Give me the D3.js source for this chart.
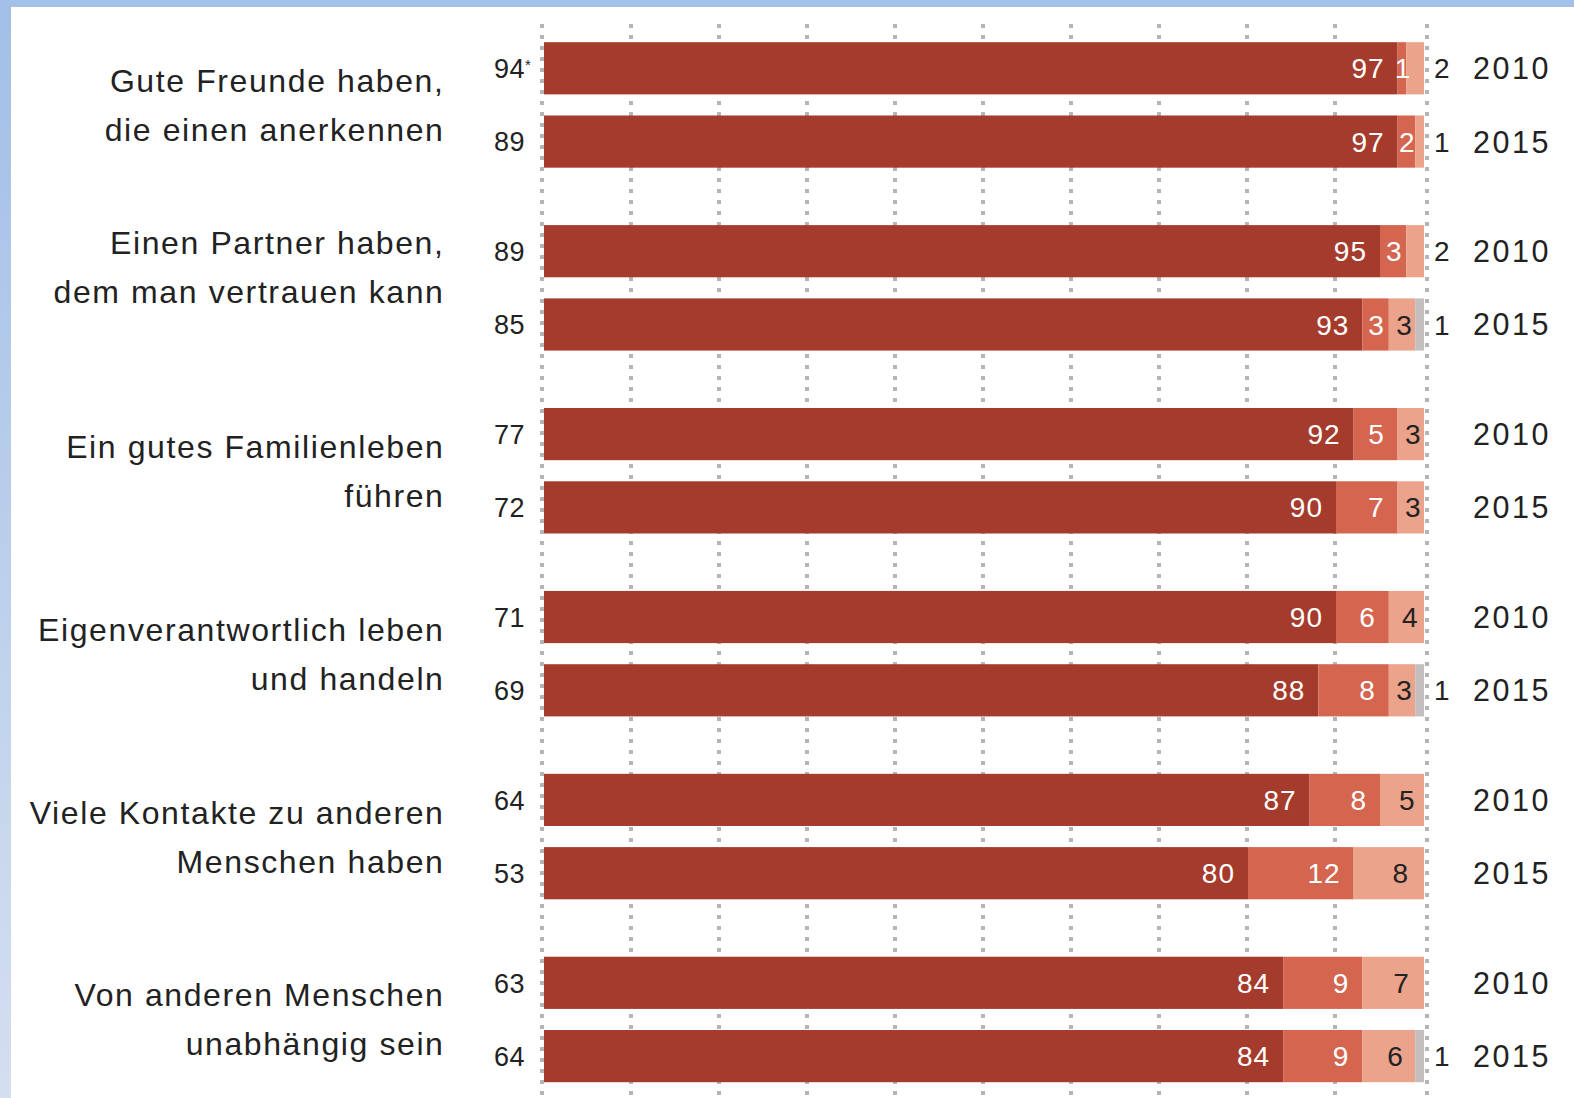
<!DOCTYPE html>
<html>
<head>
<meta charset="utf-8">
<script src="https://cdn.jsdelivr.net/npm/d3@7"></script>
<style>
  html, body { margin: 0; padding: 0; background: #fff; }
  #chart { width: 1574px; height: 1098px; }
  text { font-family: "Liberation Sans", Arial, sans-serif; }
</style>
</head>
<body>
<div id="chart"></div>
<script>
const categories = [
  ["Gute Freunde haben,", "die einen anerkennen"],
  ["Einen Partner haben,", "dem man vertrauen kann"],
  ["Ein gutes Familienleben", "führen"],
  ["Eigenverantwortlich leben", "und handeln"],
  ["Viele Kontakte zu anderen", "Menschen haben"],
  ["Von anderen Menschen", "unabhängig sein"]
];
const years = ["2010", "2015"];
// "sehr wichtig" figure shown left of the bar
const veryImportant = [[94, 89], [89, 85], [77, 72], [71, 69], [64, 53], [63, 64]];
const important = [[97, 97], [95, 93], [92, 90], [90, 88], [87, 80], [84, 84]];
const neutral = [[1, 2], [3, 3], [5, 7], [6, 8], [8, 12], [9, 9]];
const unimportant = [[2, 1], [2, 3], [3, 3], [4, 3], [5, 8], [7, 6]];
const noAnswer = [[0, 0], [0, 1], [0, 0], [0, 1], [0, 0], [0, 1]];
const ticks = [0, 10, 20, 30, 40, 50, 60, 70, 80, 90, 100];

const width = 1574, height = 1098;
const colors = ["#a53b2c", "#d4654f", "#eba38b", "#c3bfbf"];

const svg = d3.select("#chart")
  .append("svg")
  .attr("width", width)
  .attr("height", height);

// blue frame
const grad = svg.append("defs").append("linearGradient")
  .attr("id", "frame")
  .attr("x1", 0).attr("y1", 0).attr("x2", 0).attr("y2", 1);
grad.append("stop").attr("offset", "0%").attr("stop-color", "#a2bfe7");
grad.append("stop").attr("offset", "100%").attr("stop-color", "#d4dff0");
svg.append("rect").attr("x", 0).attr("y", 0).attr("width", width).attr("height", 7).attr("fill", "#a3c0e8");
svg.append("rect").attr("x", 0).attr("y", 0).attr("width", 11).attr("height", height).attr("fill", "url(#frame)");

const x = d3.scaleLinear().domain([0, 100]).range([544, 1424]);

const y = d3.scaleBand()
  .domain(d3.range(categories.length))
  .range([42.2, 1082.2])
  .paddingInner(0.314)
  .paddingOuter(0);

const yInner = d3.scaleBand()
  .domain(years)
  .range([0, y.bandwidth()])
  .paddingInner(0.288)
  .paddingOuter(0);

// dotted grid
svg.append("g")
  .selectAll("line")
  .data(ticks)
  .enter()
  .append("line")
  .attr("x1", d => x(d) + (d === 0 ? -2 : d === 100 ? 3 : -1))
  .attr("x2", d => x(d) + (d === 0 ? -2 : d === 100 ? 3 : -1))
  .attr("y1", 24)
  .attr("y2", height)
  .attr("stroke", "#b5b5b5")
  .attr("stroke-width", 4)
  .attr("stroke-dasharray", "4 7");

// flatten rows
let rows = [];
categories.forEach((c, i) => {
  years.forEach((yr, j) => {
    const vals = [important[i][j], neutral[i][j], unimportant[i][j], noAnswer[i][j]];
    let acc = 0;
    const segs = vals.map((v, k) => {
      const s = { k: k, v: v, x0: acc, x1: acc + v };
      acc += v;
      return s;
    });
    rows.push({ cat: i, year: yr, top: y(i) + yInner(yr), very: veryImportant[i][j], segs: segs });
  });
});

const bh = yInner.bandwidth();

const row = svg.append("g")
  .selectAll("g")
  .data(rows)
  .enter()
  .append("g")
  .attr("transform", d => "translate(0," + d.top + ")");

row.selectAll("rect")
  .data(d => d.segs.filter(s => s.v > 0))
  .enter()
  .append("rect")
  .attr("x", s => x(s.x0))
  .attr("width", s => x(s.x1) - x(s.x0))
  .attr("y", 0)
  .attr("height", bh)
  .attr("fill", s => colors[s.k]);

// labels inside bars
row.selectAll("text.inside")
  .data(d => d.segs.filter(s => s.v > 0 && s.k < 3 && !(s.k === 2 && d.segs[3].v === 0 && s.v <= 2)))
  .enter()
  .append("text")
  .attr("class", "inside")
  .each(function (s) {
    const w = x(s.x1) - x(s.x0);
    const tw = String(s.v).length * 16;
    const t = d3.select(this);
    if (s.k === 2) {
      const pad = Math.max(3, Math.min(16, (w - tw) / 3));
      t.attr("x", x(s.x1) - pad + 1).attr("text-anchor", "end");
    } else if (w >= tw + 28) {
      t.attr("x", x(s.x1) - 14 + 1).attr("text-anchor", "end");
    } else {
      t.attr("x", (x(s.x0) + x(s.x1)) / 2 + 1).attr("text-anchor", "middle");
    }
  })
  .attr("y", bh / 2)
  .attr("dy", "0.36em")
  .attr("font-size", 28)
  .attr("letter-spacing", 1)
  .attr("fill", s => s.k === 2 ? "#222" : "#fff")
  .text(s => s.v);

// labels right of the bar
row.append("text")
  .attr("x", 1434)
  .attr("y", bh / 2)
  .attr("dy", "0.36em")
  .attr("font-size", 28)
  .attr("fill", "#222")
  .text(d => {
    if (d.segs[3].v > 0) return d.segs[3].v;
    if (d.segs[2].v <= 2) return d.segs[2].v;
    return "";
  });

row.append("text")
  .attr("x", 1473)
  .attr("y", bh / 2)
  .attr("dy", "0.36em")
  .attr("font-size", 30.5)
  .attr("letter-spacing", 2.5)
  .attr("fill", "#222")
  .text(d => d.year);

// "sehr wichtig" values
const vt = row.append("text")
  .attr("x", 525)
  .attr("y", bh / 2)
  .attr("dy", "0.36em")
  .attr("text-anchor", "end")
  .attr("font-size", 27)
  .attr("letter-spacing", 0.5)
  .attr("fill", "#222")
  .text(d => d.very);
vt.filter(d => d.cat === 0 && d.year === "2010")
  .attr("text-anchor", "start")
  .attr("x", 494)
  .append("tspan")
  .attr("font-size", 15)
  .attr("dy", "-0.5em")
  .text("*");

// category labels
const lab = svg.append("g")
  .selectAll("text")
  .data(categories)
  .enter()
  .append("text")
  .attr("text-anchor", "end")
  .attr("font-size", 32)
  .attr("letter-spacing", 1.6)
  .attr("fill", "#222");

lab.selectAll("tspan")
  .data((d, i) => d.map(line => ({ line: line, i: i })))
  .enter()
  .append("tspan")
  .attr("x", 444.5)
  .attr("y", (t, k) => y(t.i) + y.bandwidth() / 2 + (k - 0.5) * 49 - (t.i === 1 ? 21 : 0))
  .attr("dy", "0.36em")
  .text(t => t.line);
</script>
</body>
</html>
